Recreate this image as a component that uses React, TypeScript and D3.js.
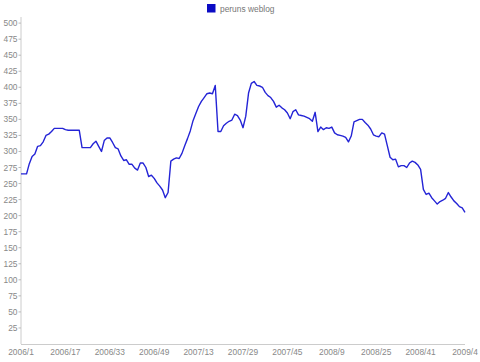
import { useEffect, useRef } from 'react';
import * as d3 from 'd3';

const seriesName = 'peruns weblog';

// weekly values, 2006/1 .. 2009/4
const values = [
  265, 265, 265, 281, 292, 296, 308, 309, 315, 325, 327, 331, 336, 336, 336, 336,
  334, 333, 333, 333, 333, 333, 306, 306, 306, 306, 312, 316, 308, 300, 317, 321,
  321, 314, 306, 304, 293, 286, 287, 280, 280, 274, 271, 282, 282, 275, 261, 263,
  258, 251, 246, 240, 228, 236, 285, 288, 290, 289, 297, 309, 320, 332, 348, 359,
  370, 378, 384, 390, 391, 390, 403, 331, 331, 340, 344, 347, 349, 358, 356, 349,
  337, 355, 391, 406, 409, 403, 402, 400, 392, 387, 384, 378, 369, 372, 368, 365,
  360, 351, 362, 365, 357, 356, 355, 353, 351, 347, 361, 331, 338, 334, 337, 336,
  338, 329, 326, 325, 324, 322, 315, 324, 346, 348, 350, 350, 345, 341, 335, 326,
  324, 323, 329, 327, 309, 291, 287, 288, 276, 278, 278, 275, 282, 285, 283, 279,
  272, 241, 233, 235, 228, 223, 218, 222, 224, 227, 236, 229, 223, 219, 214, 212,
  205,
];

const xLabels = [
  '2006/1', '2006/17', '2006/33', '2006/49', '2007/13', '2007/29',
  '2007/45', '2008/9', '2008/25', '2008/41', '2009/4',
];

const yTicks = d3.range(25, 501, 25);

export default function App() {
  const ref = useRef<SVGSVGElement | null>(null);

  useEffect(() => {
    if (!ref.current) return;
    const width = 480;
    const height = 362;
    const left = 21;
    const right = 465;
    const bottom = 344;

    const svg = d3.select(ref.current);
    svg.selectAll('*').remove();

    const x = d3.scaleLinear().domain([0, values.length - 1]).range([left, right]);
    const y = d3.scaleLinear().domain([0, 500]).range([bottom, 23.1]);
    const font = '"Liberation Sans", Arial, sans-serif';

    svg.attr('width', width).attr('height', height);

    // legend
    svg
      .append('rect')
      .attr('x', 207)
      .attr('y', 4)
      .attr('width', 8.5)
      .attr('height', 8.5)
      .attr('fill', '#0b0bc4');
    svg
      .append('text')
      .attr('x', 220)
      .attr('y', 11.5)
      .attr('font-family', font)
      .attr('font-size', 8.4)
      .attr('fill', '#777')
      .text(seriesName);

    // axes
    svg
      .append('line')
      .attr('x1', left)
      .attr('x2', left)
      .attr('y1', 17)
      .attr('y2', bottom)
      .attr('stroke', '#ccc');
    svg
      .append('line')
      .attr('x1', left)
      .attr('x2', right)
      .attr('y1', bottom + 0.5)
      .attr('y2', bottom + 0.5)
      .attr('stroke', '#ccc');

    const yg = svg.append('g');
    yTicks.forEach(t => {
      yg.append('line')
        .attr('x1', 18.5)
        .attr('x2', left)
        .attr('y1', y(t))
        .attr('y2', y(t))
        .attr('stroke', '#bbb');
      yg.append('text')
        .attr('x', 17.5)
        .attr('y', y(t) + 3)
        .attr('text-anchor', 'end')
        .attr('font-family', font)
        .attr('font-size', 8.4)
        .attr('fill', '#888')
        .text(t);
    });

    const xg = svg.append('g');
    xLabels.forEach((lab, i) => {
      xg.append('text')
        .attr('x', x(i * 16))
        .attr('y', 355)
        .attr('text-anchor', 'middle')
        .attr('font-family', font)
        .attr('font-size', 8.4)
        .attr('fill', '#888')
        .text(lab);
    });

    const line = d3
      .line<number>()
      .x((_, i) => x(i))
      .y(d => y(d));

    svg
      .append('path')
      .datum(values)
      .attr('fill', 'none')
      .attr('stroke', '#2424d6')
      .attr('stroke-width', 1.4)
      .attr('stroke-linejoin', 'round')
      .attr('d', line);
  }, []);

  return <svg ref={ref} style={{ position: 'absolute', left: 0, top: 0 }} />;
}
